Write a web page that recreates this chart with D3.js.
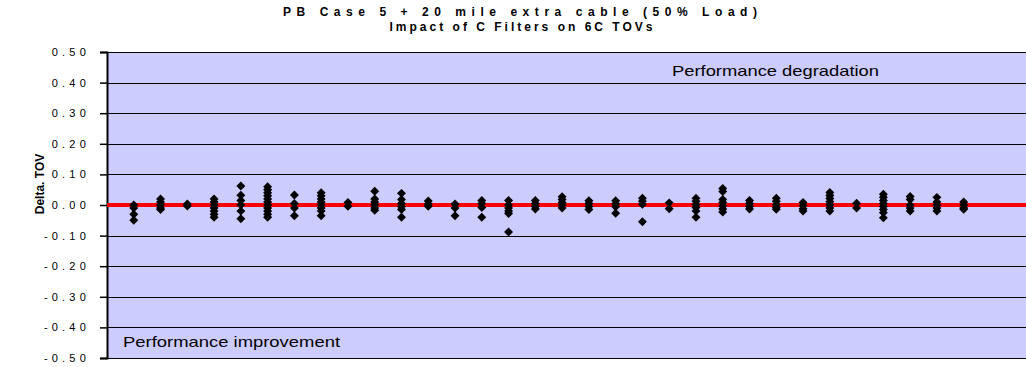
<!DOCTYPE html>
<html>
<head>
<meta charset="utf-8">
<script src="https://cdn.jsdelivr.net/npm/d3@7"></script>
<style>
  html, body { margin: 0; padding: 0; background: #ffffff; }
  svg { display: block; font-family: "Liberation Sans", Arial, sans-serif; }
</style>
</head>
<body>
<svg id="chart" width="1026" height="367"></svg>
<script>
// Chart text
const titleLines = ["PB Case 5 + 20 mile extra cable (50% Load)", "Impact of C Filters on 6C TOVs"];
const yAxisTitle = "Delta. TOV";
const noteTop = "Performance degradation";
const noteBottom = "Performance improvement";

// Y axis ticks
const yTicks = [0.5, 0.4, 0.3, 0.2, 0.1, 0.0, -0.1, -0.2, -0.3, -0.4, -0.5];

// Case index for each column of results
const cases = d3.range(1, 33);

// Change in TOV for every run of each case (one array per case)
const tovDeltas = [
  [0.0, -0.01, -0.03, -0.05],
  [0.02, 0.01, 0.0, -0.01, -0.015],
  [0.003, -0.003],
  [0.02, 0.01, 0.0, -0.01, -0.02, -0.03, -0.04],
  [0.062, 0.032, 0.015, 0.0, -0.02, -0.045],
  [0.06, 0.05, 0.04, 0.03, 0.02, 0.01, 0.0, -0.01, -0.02, -0.03, -0.04],
  [0.033, 0.005, -0.01, -0.035],
  [0.04, 0.03, 0.02, 0.01, 0.0, -0.01, -0.02, -0.035],
  [0.008, -0.004],
  [0.045, 0.02, 0.01, 0.0, -0.01, -0.017],
  [0.038, 0.018, 0.005, -0.005, -0.015, -0.04],
  [0.013, 0.003, -0.004],
  [0.003, -0.01, -0.035],
  [0.015, 0.005, -0.008, -0.04],
  [0.015, 0.0, -0.01, -0.02, -0.028, -0.088],
  [0.015, 0.005, -0.005, -0.013],
  [0.027, 0.018, 0.008, 0.0, -0.01],
  [0.014, 0.005, -0.005, -0.015],
  [0.014, 0.004, -0.006, -0.027],
  [0.022, 0.012, 0.002, -0.055],
  [0.007, -0.012],
  [0.022, 0.012, 0.002, -0.008, -0.02, -0.04],
  [0.054, 0.044, 0.018, 0.008, -0.003, -0.013, -0.023],
  [0.015, 0.005, -0.005, -0.013],
  [0.022, 0.012, 0.002, -0.008, -0.014],
  [0.008, -0.002, -0.012, -0.02],
  [0.041, 0.031, 0.021, 0.011, 0.001, -0.01, -0.02],
  [0.006, -0.01],
  [0.035, 0.025, 0.015, 0.005, -0.005, -0.015, -0.025, -0.042],
  [0.028, 0.018, 0.0, -0.01, -0.02],
  [0.025, 0.01, 0.0, -0.01, -0.02],
  [0.01, 0.0, -0.01, -0.014]
];

const svg = d3.select("#chart");
const margin = { left: 107, top: 52, bottom: 358, right: 1044 };

const x = d3.scaleLinear().domain([0, 35]).range([margin.left, margin.right]);
const y = d3.scaleLinear().domain([-0.5, 0.5]).range([margin.bottom, margin.top]);

// Plot background
svg.append("rect")
  .attr("x", margin.left).attr("y", margin.top)
  .attr("width", margin.right - margin.left)
  .attr("height", margin.bottom - margin.top)
  .attr("fill", "#ccccff");

// Horizontal gridlines
svg.append("g")
  .selectAll("line")
  .data(yTicks)
  .join("line")
  .attr("x1", margin.left).attr("x2", margin.right)
  .attr("y1", d => Math.round(y(d)) + 0.5).attr("y2", d => Math.round(y(d)) + 0.5)
  .attr("stroke", "#000").attr("stroke-width", 1.2);

// Y axis
const yAxis = d3.axisLeft(y)
  .tickValues(yTicks)
  .tickSize(7)
  .tickFormat(d3.format(".2f"));
const gy = svg.append("g")
  .attr("transform", `translate(${margin.left},0)`)
  .call(yAxis);
gy.select(".domain").attr("stroke", "#000").attr("stroke-width", 2);
gy.selectAll(".tick line").attr("stroke", "#000").attr("stroke-width", 1.5);
gy.selectAll(".tick text")
  .attr("x", -17)
  .attr("fill", "#000")
  .style("font-family", '"Liberation Sans", Arial, sans-serif')
  .style("font-size", "11px")
  .style("letter-spacing", "4.2px")
  .text(d => d3.format(".2f")(d).replace("−", "-"));

// Zero reference line
svg.append("line")
  .attr("x1", margin.left).attr("x2", margin.right)
  .attr("y1", y(0)).attr("y2", y(0))
  .attr("stroke", "#ff0000").attr("stroke-width", 4);

// Result markers: filled diamonds
const points = [];
tovDeltas.forEach((vals, i) => vals.forEach(v => points.push({ c: cases[i], v })));
const diamond = d3.symbol().type(d3.symbolSquare).size(40);
svg.append("g")
  .selectAll("path")
  .data(points)
  .join("path")
  .attr("d", diamond)
  .attr("transform", d => `translate(${x(d.c)},${y(d.v)}) rotate(45)`)
  .attr("fill", "#000");

// Title
svg.append("text")
  .attr("x", 520).attr("y", 16)
  .attr("text-anchor", "middle")
  .attr("textLength", 474).attr("lengthAdjust", "spacing")
  .style("font-size", "12px").style("font-weight", "bold")
  .text(titleLines[0]);
svg.append("text")
  .attr("x", 521).attr("y", 31)
  .attr("text-anchor", "middle")
  .attr("textLength", 263).attr("lengthAdjust", "spacing")
  .style("font-size", "12px").style("font-weight", "bold")
  .text(titleLines[1]);

// Y axis title
svg.append("text")
  .attr("transform", "translate(44,184) rotate(-90)")
  .attr("text-anchor", "middle")
  .style("font-size", "12px").style("font-weight", "bold")
  .text(yAxisTitle);

// Region notes
svg.append("text")
  .attr("x", 672).attr("y", 76)
  .attr("textLength", 207).attr("lengthAdjust", "spacingAndGlyphs")
  .style("font-size", "15px")
  .text(noteTop);
svg.append("text")
  .attr("x", 123).attr("y", 347)
  .attr("textLength", 217).attr("lengthAdjust", "spacingAndGlyphs")
  .style("font-size", "15px")
  .text(noteBottom);
</script>
</body>
</html>
